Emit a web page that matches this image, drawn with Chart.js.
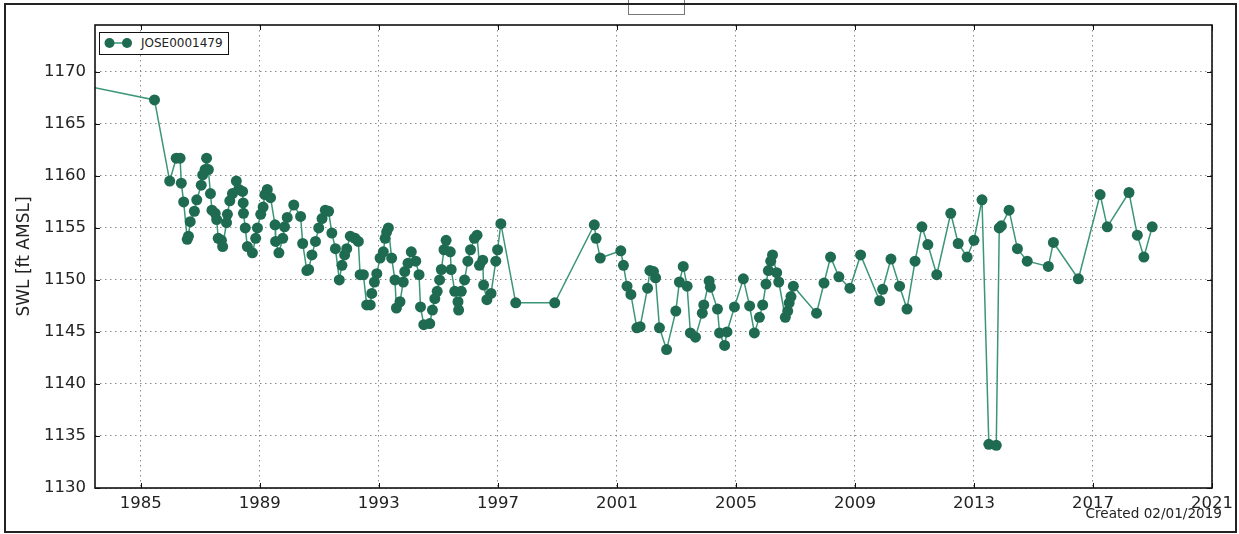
<!DOCTYPE html>
<html>
<head>
<meta charset="utf-8">
<script src="https://cdn.jsdelivr.net/npm/chart.js@4.4.1/dist/chart.umd.min.js"></script>
<style>
  body { margin: 0; background: #fff; font-family: 'DejaVu Sans', sans-serif; }
  #wrap { position: relative; width: 1239px; height: 534px; overflow: hidden; }
  #frame { position: absolute; left: 4px; top: 3px; width: 1229px; height: 526px; border: 2px solid #222; pointer-events: none; }
  #tab { position: absolute; left: 628px; top: -1px; width: 55px; height: 14px; border: 1px solid #777; background: #fff; }
  #legend { position: absolute; left: 99px; top: 32px; width: 128px; height: 21px; border: 1.5px solid #111; background: #fff; }
  #legend svg { position: absolute; left: 0; top: 0; }
  #legend span { position: absolute; left: 41px; top: 3px; font-size: 12px; line-height: 15px; color: #222; }
  #created { position: absolute; right: 17px; top: 506px; font-size: 13.6px; line-height: 15px; color: #222; }
</style>
</head>
<body>
<div id="wrap">
  <canvas id="swlChart"></canvas>
  <div id="tab"></div>
  <div id="legend">
    <svg width="36" height="21"><line x1="6" y1="10" x2="31" y2="10" stroke="#3b9676" stroke-width="1.5"/><circle cx="9.5" cy="10" r="5" fill="#1f6b52"/><circle cx="27" cy="10" r="5" fill="#1f6b52"/></svg>
    <span>JOSE0001479</span>
  </div>
  <div id="created">Created 02/01/2019</div>
  <div id="frame"></div>
</div>
<script>
const wellName = 'JOSE0001479';
const yTitle = 'SWL [ft AMSL]';
const xTicks = [1985, 1989, 1993, 1997, 2001, 2005, 2009, 2013, 2017, 2021];
const yTicks = [1130, 1135, 1140, 1145, 1150, 1155, 1160, 1165, 1170];

// decimal year of each measurement
const years = [
  1980.00, 1985.46, 1985.97, 1986.19, 1986.32, 1986.36, 1986.44, 1986.56, 1986.60, 1986.66,
  1986.80, 1986.88, 1987.03, 1987.08, 1987.16, 1987.21, 1987.27, 1987.34, 1987.39, 1987.50,
  1987.55, 1987.60, 1987.71, 1987.75, 1987.88, 1987.91, 1987.99, 1988.08, 1988.21, 1988.30,
  1988.42, 1988.44, 1988.45, 1988.51, 1988.58, 1988.75, 1988.86, 1988.92, 1989.03, 1989.11,
  1989.17, 1989.25, 1989.36, 1989.51, 1989.53, 1989.64, 1989.77, 1989.83, 1989.92, 1990.14,
  1990.37, 1990.44, 1990.58, 1990.64, 1990.75, 1990.87, 1990.98, 1991.09, 1991.20, 1991.31,
  1991.42, 1991.54, 1991.67, 1991.76, 1991.85, 1991.92, 1992.04, 1992.20, 1992.31, 1992.37,
  1992.48, 1992.59, 1992.71, 1992.76, 1992.85, 1992.93, 1993.04, 1993.15, 1993.21, 1993.26,
  1993.32, 1993.43, 1993.54, 1993.59, 1993.71, 1993.82, 1993.87, 1993.98, 1994.09, 1994.24,
  1994.35, 1994.40, 1994.51, 1994.71, 1994.80, 1994.88, 1994.96, 1995.04, 1995.10, 1995.19,
  1995.26, 1995.40, 1995.43, 1995.55, 1995.66, 1995.68, 1995.77, 1995.88, 1995.99, 1996.08,
  1996.21, 1996.30, 1996.38, 1996.49, 1996.52, 1996.63, 1996.77, 1996.93, 1996.99, 1997.10,
  1997.60, 1998.91, 2000.24, 2000.30, 2000.44, 2001.13, 2001.22, 2001.34, 2001.47, 2001.67,
  2001.78, 2002.03, 2002.11, 2002.23, 2002.30, 2002.43, 2002.67, 2002.98, 2003.10, 2003.23,
  2003.36, 2003.47, 2003.64, 2003.87, 2003.92, 2004.10, 2004.14, 2004.38, 2004.45, 2004.62,
  2004.70, 2004.95, 2005.25, 2005.46, 2005.62, 2005.79, 2005.90, 2006.01, 2006.09, 2006.17,
  2006.23, 2006.37, 2006.44, 2006.66, 2006.74, 2006.79, 2006.85, 2006.93, 2007.71, 2007.96,
  2008.18, 2008.46, 2008.83, 2009.19, 2009.83, 2009.93, 2010.21, 2010.50, 2010.75, 2011.02,
  2011.25, 2011.45, 2011.75, 2012.22, 2012.47, 2012.77, 2013.00, 2013.27, 2013.50, 2013.75,
  2013.85, 2013.92, 2014.18, 2014.46, 2014.79, 2015.50, 2015.67, 2016.51, 2017.24, 2017.48,
  2018.21, 2018.49, 2018.71, 2018.99
];

// static water level, ft above mean sea level
const swl = [
  1170.5, 1167.3, 1159.5, 1161.7, 1161.7, 1159.3, 1157.5, 1153.9, 1154.2, 1155.6,
  1156.6, 1157.7, 1159.1, 1160.1, 1160.6, 1161.7, 1160.6, 1158.3, 1156.7, 1156.4,
  1155.8, 1154.0, 1153.8, 1153.2, 1155.5, 1156.3, 1157.6, 1158.3, 1159.5, 1158.7,
  1158.5, 1157.4, 1156.4, 1155.0, 1153.2, 1152.6, 1154.0, 1155.0, 1156.3, 1157.0,
  1158.2, 1158.7, 1157.9, 1155.3, 1153.7, 1152.6, 1154.0, 1155.1, 1156.0, 1157.2,
  1156.1, 1153.5, 1150.9, 1151.0, 1152.4, 1153.7, 1155.0, 1155.9, 1156.7, 1156.6,
  1154.5, 1153.0, 1150.0, 1151.4, 1152.4, 1153.0, 1154.2, 1154.0, 1153.7, 1150.5,
  1150.5, 1147.6, 1147.6, 1148.7, 1149.8, 1150.6, 1152.1, 1152.7, 1154.0, 1154.6,
  1155.0, 1152.1, 1150.0, 1147.3, 1147.9, 1149.8, 1150.8, 1151.6, 1152.7, 1151.8,
  1150.5, 1147.4, 1145.7, 1145.8, 1147.1, 1148.2, 1148.9, 1150.0, 1151.0, 1152.9,
  1153.8, 1152.7, 1151.0, 1148.9, 1147.9, 1147.1, 1148.9, 1150.0, 1151.8, 1152.9,
  1154.0, 1154.3, 1151.4, 1151.9, 1149.5, 1148.1, 1148.7, 1151.8, 1152.9, 1155.4,
  1147.8, 1147.8, 1155.3, 1154.0, 1152.1, 1152.8, 1151.4, 1149.4, 1148.6, 1145.4,
  1145.5, 1149.2, 1150.9, 1150.8, 1150.2, 1145.4, 1143.3, 1147.0, 1149.8, 1151.3,
  1149.4, 1144.9, 1144.5, 1146.8, 1147.6, 1149.9, 1149.3, 1147.2, 1144.9, 1143.7,
  1145.0, 1147.4, 1150.1, 1147.5, 1144.9, 1146.4, 1147.6, 1149.6, 1150.9, 1151.8,
  1152.4, 1150.7, 1149.8, 1146.4, 1147.0, 1147.8, 1148.4, 1149.4, 1146.8, 1149.7,
  1152.2, 1150.3, 1149.2, 1152.4, 1148.0, 1149.1, 1152.0, 1149.4, 1147.2, 1151.8,
  1155.1, 1153.4, 1150.5, 1156.4, 1153.5, 1152.2, 1153.8, 1157.7, 1134.2, 1134.1,
  1155.0, 1155.2, 1156.7, 1153.0, 1151.8, 1151.3, 1153.6, 1150.1, 1158.2, 1155.1,
  1158.4, 1154.3, 1152.2, 1155.1
];

const xMin = 1983.46, xMax = 2021;
const yMin = 1130, yMax = 1174.5;

// matplotlib-ish frame: box round the plot area with inward ticks
const frameTicks = {
  id: 'frameTicks',
  afterDraw(chart) {
    const { ctx, chartArea: a, scales: { x, y } } = chart;
    ctx.save();
    ctx.strokeStyle = '#111';
    ctx.lineWidth = 1;
    ctx.beginPath();
    xTicks.forEach(v => {
      const px = Math.round(x.getPixelForValue(v)) + 0.5;
      ctx.moveTo(px, a.bottom); ctx.lineTo(px, a.bottom - 5);
      ctx.moveTo(px, a.top); ctx.lineTo(px, a.top + 5);
    });
    yTicks.forEach(v => {
      const py = Math.round(y.getPixelForValue(v)) + 0.5;
      ctx.moveTo(a.left, py); ctx.lineTo(a.left + 5, py);
      ctx.moveTo(a.right, py); ctx.lineTo(a.right - 5, py);
    });
    ctx.stroke();
    ctx.lineWidth = 1.6;
    ctx.strokeRect(a.left, a.top, a.right - a.left, a.bottom - a.top);
    ctx.restore();
  }
};

Chart.defaults.font.family = "'DejaVu Sans', sans-serif";
Chart.defaults.color = '#222';

function initChart() {
  const ctx = document.getElementById('swlChart').getContext('2d');
  new Chart(ctx, {
    type: 'line',
    data: {
      datasets: [{
        label: wellName,
        data: years.map((t, i) => ({ x: t, y: swl[i] })),
        borderColor: '#3b9676',
        borderWidth: 1.5,
        backgroundColor: '#1f6b52',
        pointBackgroundColor: '#1f6b52',
        pointBorderColor: '#1f6b52',
        pointBorderWidth: 0,
        pointRadius: 5.5,
        tension: 0,
        clip: 0
      }]
    },
    options: {
      responsive: true,
      maintainAspectRatio: false,
      animation: false,
      layout: { padding: { top: 25, right: 20, left: 0, bottom: 0 } },
      scales: {
        x: {
          type: 'linear',
          min: xMin,
          max: xMax,
          afterBuildTicks: s => { s.ticks = xTicks.map(v => ({ value: v })); },
          afterFit: s => { s.height = 46; },
          ticks: { padding: 6, font: { size: 16.5 }, callback: v => String(v), maxRotation: 0 },
          grid: { color: '#8a8a8a', lineWidth: 1, drawTicks: false },
          border: { display: false, dash: [1.5, 3.5] }
        },
        y: {
          min: yMin,
          max: yMax,
          afterBuildTicks: s => { s.ticks = yTicks.map(v => ({ value: v })); },
          afterFit: s => { s.width = 95; },
          ticks: { padding: 9, font: { size: 16.5 }, callback: v => String(v) },
          grid: { color: '#8a8a8a', lineWidth: 1, drawTicks: false },
          border: { display: false, dash: [1.5, 3.5] },
          title: { display: true, text: yTitle, font: { size: 17 }, padding: { top: 14, bottom: 0 } }
        }
      },
      plugins: { legend: { display: false }, tooltip: { enabled: false } }
    },
    plugins: [frameTicks]
  });
}

window.onload = initChart;
</script>
</body>
</html>
